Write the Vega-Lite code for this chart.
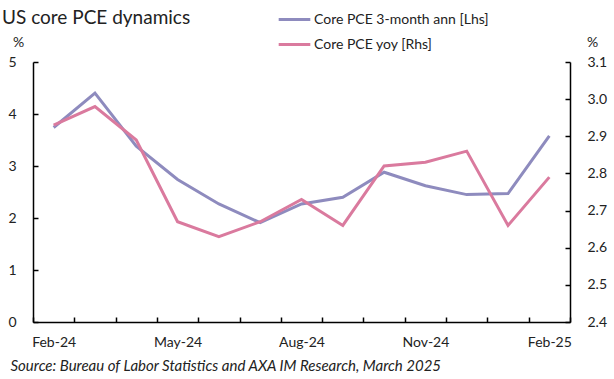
{
  "$schema": "https://vega.github.io/schema/vega-lite/v6.json",
  "width": 537,
  "height": 260,
  "autosize": "none",
  "padding": {"left": 33, "top": 62, "right": 44, "bottom": 57},
  "background": "white",
  "config": {
    "font": "Lato",
    "view": {"stroke": null},
    "axis": {"labelFont": "Lato", "titleFont": "Lato", "labelFontSize": 14, "labelColor": "#222", "domainColor": "#000", "domainWidth": 1.5, "tickColor": "#000", "tickWidth": 1.5, "grid": false}
  },
  "title": {"text": "US core PCE dynamics", "anchor": "start", "frame": "group", "dx": -31, "offset": 0, "dy": 26, "fontSize": 19, "fontWeight": "normal", "font": "Lato", "color": "#222"},
  "data": {
    "values": [
      {"month": "Feb-24", "ann": 3.74, "yoy": 2.93},
      {"month": "Mar-24", "ann": 4.40, "yoy": 2.98},
      {"month": "Apr-24", "ann": 3.38, "yoy": 2.89},
      {"month": "May-24", "ann": 2.74, "yoy": 2.67},
      {"month": "Jun-24", "ann": 2.27, "yoy": 2.63},
      {"month": "Jul-24", "ann": 1.91, "yoy": 2.67},
      {"month": "Aug-24", "ann": 2.27, "yoy": 2.73},
      {"month": "Sep-24", "ann": 2.40, "yoy": 2.66},
      {"month": "Oct-24", "ann": 2.88, "yoy": 2.82},
      {"month": "Nov-24", "ann": 2.62, "yoy": 2.83},
      {"month": "Dec-24", "ann": 2.45, "yoy": 2.86},
      {"month": "Jan-25", "ann": 2.47, "yoy": 2.66},
      {"month": "Feb-25", "ann": 3.58, "yoy": 2.79}
    ]
  },
  "encoding": {
    "x": {
      "field": "month", "type": "ordinal", "sort": null,
      "scale": {"type": "band", "paddingInner": 0, "paddingOuter": 0},
      "axis": {
        "labelAngle": 0, "tickBand": "extent", "tickSize": -5, "labelPadding": 18,
        "labelExpr": "indexof(['Feb-24','May-24','Aug-24','Nov-24','Feb-25'], datum.value) >= 0 ? datum.value : ''",
        "title": "Source: Bureau of Labor Statistics and AXA IM Research, March 2025",
        "titleFontStyle": "italic", "titleFontWeight": "normal", "titleFontSize": 15, "titleColor": "#222",
        "titleAnchor": "start", "titleAlign": "left", "titleX": -23, "titleY": 43, "titleBaseline": "middle"
      }
    }
  },
  "layer": [
    {
      "mark": {"type": "line", "strokeWidth": 3},
      "encoding": {
        "y": {
          "field": "ann", "type": "quantitative",
          "scale": {"domain": [0, 5], "nice": false, "zero": false},
          "axis": {"orient": "left", "values": [0, 1, 2, 3, 4, 5], "tickSize": -5, "labelPadding": 22, "title": "%", "titleAngle": 0, "titleX": -15, "titleY": -20, "titleAlign": "center", "titleBaseline": "middle", "titleFontWeight": "normal", "titleFontSize": 14, "titleColor": "#222"}
        },
        "color": {
          "datum": "Core PCE 3-month ann [Lhs]",
          "scale": {"domain": ["Core PCE 3-month ann [Lhs]", "Core PCE yoy [Rhs]"], "range": ["#8E8BBE", "#DA7A9E"]},
          "legend": {"orient": "none", "legendX": 244, "legendY": -60, "title": null, "symbolType": "stroke", "symbolSize": 1000, "symbolStrokeWidth": 3, "labelFontSize": 14, "labelColor": "#222", "labelFont": "Lato", "labelOffset": 2, "labelLimit": 0, "rowPadding": -9}
        }
      }
    },
    {
      "mark": {"type": "line", "strokeWidth": 3},
      "encoding": {
        "y": {
          "field": "yoy", "type": "quantitative",
          "scale": {"domain": [2.4, 3.1], "nice": false, "zero": false},
          "axis": {"orient": "right", "values": [2.4, 2.5, 2.6, 2.7, 2.8, 2.9, 3.0, 3.1], "format": ".1f", "tickSize": -5, "labelPadding": 22, "title": "%", "titleAngle": 0, "titleX": 22, "titleY": -20, "titleAlign": "center", "titleBaseline": "middle", "titleFontWeight": "normal", "titleFontSize": 14, "titleColor": "#222"}
        },
        "color": {"datum": "Core PCE yoy [Rhs]"}
      }
    }
  ],
  "resolve": {"scale": {"y": "independent"}}
}
